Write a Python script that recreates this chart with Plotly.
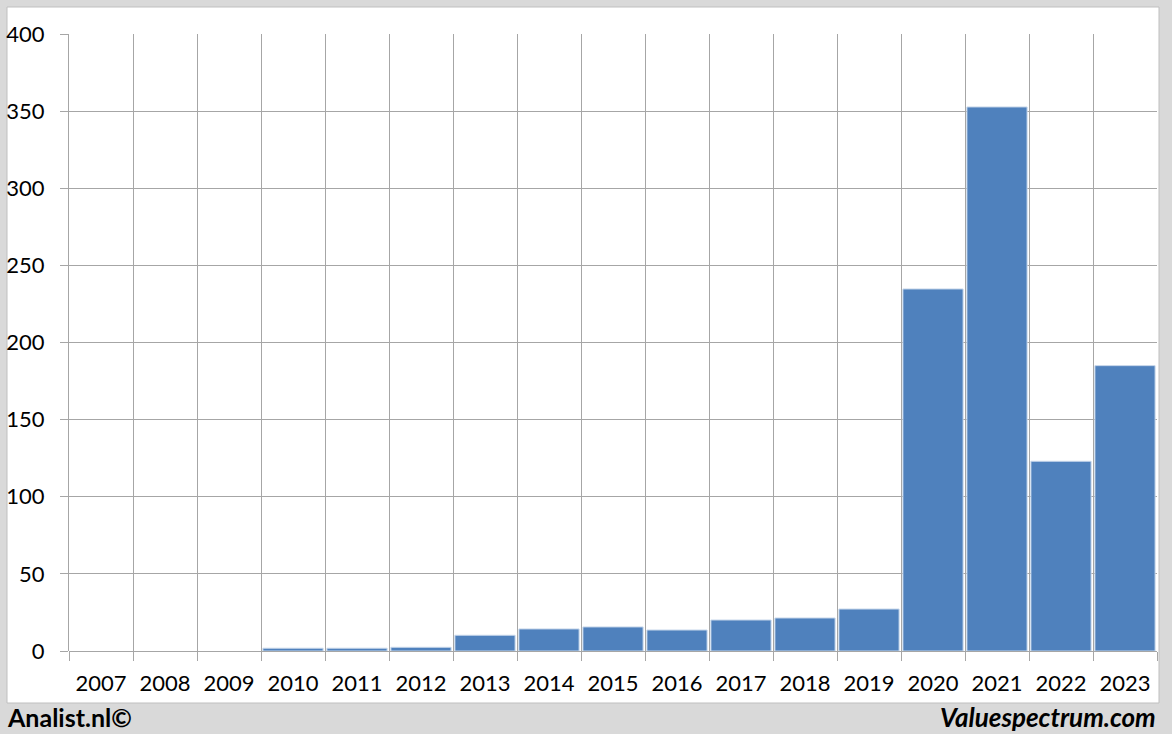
import plotly.graph_objects as go

years = ["2007", "2008", "2009", "2010", "2011", "2012", "2013", "2014", "2015",
         "2016", "2017", "2018", "2019", "2020", "2021", "2022", "2023"]
values = [None, None, None, 1.8, 1.8, 2.4, 10.2, 14.3, 15.6,
          13.6, 20.1, 21.4, 27.2, 234.7, 352.7, 123.0, 185.0]
y_ticks = [0, 50, 100, 150, 200, 250, 300, 350, 400]

FONT = "Lato"
GRID = "#a6a6a6"

fig = go.Figure()
fig.add_trace(go.Bar(
    x=years, y=values,
    marker=dict(color="#4f81bd", line=dict(color="#c6d6ea", width=1)),
    hoverinfo="x+y",
))

fig.update_layout(
    width=1172, height=734,
    paper_bgcolor="#d9d9d9",
    plot_bgcolor="#ffffff",
    margin=dict(l=69, r=15, t=34, b=83, autoexpand=False),
    bargap=0.06,
    showlegend=False,
    font=dict(family=FONT, size=21, color="#000000"),
    shapes=[dict(type="rect", xref="paper", yref="paper",
                 x0=-62 / 1088, x1=1 + 2 / 1088, y0=-52 / 617, y1=1 + 27 / 617,
                 fillcolor="#ffffff", line=dict(color="#bfbfbf", width=1), layer="below")],
    annotations=[
        dict(text="<b>Analist.nl©</b>", xref="paper", yref="paper",
             x=-64 / 1088, y=-66 / 617, xanchor="left", yanchor="middle",
             showarrow=False, font=dict(family=FONT, size=25, color="#000000")),
        dict(text="<b><i>Valuespectrum.com</i></b>", xref="paper", yref="paper",
             x=1 + 1 / 1088, y=-66 / 617, xanchor="right", yanchor="middle",
             showarrow=False, font=dict(family=FONT, size=26, color="#000000")),
    ],
)

fig.update_xaxes(
    type="category",
    tickson="boundaries",
    showgrid=True, gridcolor=GRID, gridwidth=1,
    ticks="outside", ticklen=9, tickcolor=GRID, tickwidth=1,
    ticklabelstandoff=17,
    showline=False,
    tickfont=dict(family=FONT, size=22, color="#000000"),
)
fig.update_yaxes(
    range=[0, 400], tickvals=y_ticks,
    showgrid=True, gridcolor=GRID, gridwidth=1,
    zeroline=True, zerolinecolor=GRID, zerolinewidth=1,
    ticks="outside", ticklen=8, tickcolor=GRID, tickwidth=1,
    ticklabelstandoff=11,
    showline=True, linecolor=GRID, linewidth=1,
    tickfont=dict(family=FONT, size=22, color="#000000"),
)

fig.write_html(
    "out.html",
    config={"displayModeBar": False},
    post_script="document.body.style.margin='0';document.body.style.overflow='hidden';",
)
